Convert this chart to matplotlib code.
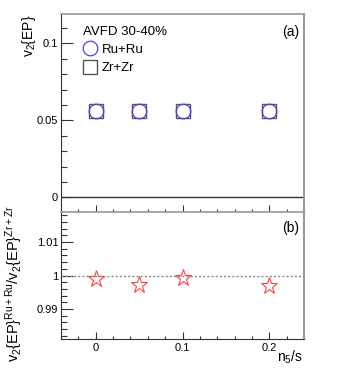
import matplotlib
matplotlib.use("Agg")
import matplotlib.pyplot as plt
from matplotlib.ticker import MultipleLocator, FixedLocator
from matplotlib.lines import Line2D

plt.rcParams['font.family'] = ['Liberation Sans', 'DejaVu Sans']
plt.rcParams['mathtext.fontset'] = 'custom'
plt.rcParams['mathtext.rm'] = 'Liberation Sans'
plt.rcParams['mathtext.it'] = 'Liberation Sans:italic'

# data
n5s = [0.0, 0.05, 0.1, 0.2]
v2_ru = [0.0558, 0.0558, 0.0558, 0.0558]
v2_zr = [0.0558, 0.0558, 0.0558, 0.0558]
ratio = [0.9990, 0.9972, 0.9994, 0.9969]

fig = plt.figure(figsize=(3.38, 3.73), dpi=100)
W, H = 338, 373
L, R = 61, 304
T1, B1, B2 = 14, 212, 339
ax1 = fig.add_axes([L / W, (H - B1) / H, (R - L) / W, (B1 - T1) / H])
ax2 = fig.add_axes([L / W, (H - B2) / H, (R - L) / W, (B2 - B1) / H])

dark = '#333333'
grey = '#999999'
for ax in (ax1, ax2):
    ax.set_xlim(-0.04, 0.24)
    ax.xaxis.set_major_locator(FixedLocator([0.0, 0.1, 0.2]))
    ax.xaxis.set_minor_locator(MultipleLocator(0.02))
    ax.tick_params(axis='both', which='both', direction='in', colors=dark,
                   labelcolor='black', labelsize=8, width=0.8)
    ax.tick_params(axis='y', which='major', length=8.5, pad=2)
    ax.tick_params(axis='y', which='minor', length=4)
    ax.tick_params(axis='x', which='major', length=5, pad=3)
    ax.tick_params(axis='x', which='minor', length=2.5)
    ax.spines['left'].set_color(dark)
    ax.spines['bottom'].set_color(dark)
    ax.spines['top'].set_color(grey)
    ax.spines['right'].set_color(grey)
    ax.spines['right'].set_linewidth(1.5)
    ax.spines['top'].set_linewidth(1.2)

# top panel
ax1.set_ylim(-0.0095, 0.119)
ax1.yaxis.set_major_locator(FixedLocator([0.0, 0.05, 0.1]))
ax1.yaxis.set_minor_locator(MultipleLocator(0.01))
ax1.set_yticklabels(['0', '0.05', '0.1'])
ax1.tick_params(axis='x', labelbottom=False)
ax1.axhline(0, color=dark, lw=1.0)
ax1.plot(n5s, v2_zr, ls='none', marker='s', ms=10.5, mfc='none', mec='#555555', mew=1.0)
ax1.plot(n5s, v2_ru, ls='none', marker='o', ms=10.5, mfc='none', mec='#4444ee', mew=0.9)
ax1.text(0.98, 0.909, '(a)', transform=ax1.transAxes, ha='right', va='center', fontsize=10)
ax1.text(0.09, 0.909, 'AVFD 30-40%', transform=ax1.transAxes, ha='left', va='center', fontsize=9.5)
handles = [Line2D([], [], ls='none', marker='o', ms=10.5, mfc='none', mec='#4444ee', mew=0.9),
           Line2D([], [], ls='none', marker='s', ms=10.5, mfc='none', mec='#555555', mew=1.0)]
ax1.legend(handles, ['Ru+Ru', 'Zr+Zr'], loc='upper left', bbox_to_anchor=(0.06, 0.885),
           frameon=False, fontsize=9.5, handletextpad=0.3, borderpad=0.0,
           handlelength=1.2, labelspacing=0.5)

# bottom panel
ax2.set_ylim(0.981, 1.019)
ax2.yaxis.set_major_locator(FixedLocator([0.99, 1.0, 1.01]))
ax2.yaxis.set_minor_locator(MultipleLocator(0.002))
ax2.set_yticklabels(['0.99', '1', '1.01'])
ax2.set_xticklabels(['0', '0.1', '0.2'])
ax2.axhline(1.0, color='#888888', lw=1.0, ls=(0, (1.5, 1.5)))
ax2.plot(n5s, ratio, ls='none', marker='*', ms=12.5, mfc='none', mec='#ff4444', mew=0.8)
ax2.text(0.98, 0.874, '(b)', transform=ax2.transAxes, ha='right', va='center', fontsize=10)

fig.text(29 / W, 1 - 15 / H, 'v$_2${EP}', rotation=90, ha='center', va='top', fontsize=10)
fig.text(14 / W, 1 - 284 / H, 'v$_2${EP}$^{\\mathrm{Ru+Ru}}$/v$_2${EP}$^{\\mathrm{Zr+Zr}}$',
         rotation=90, ha='center', va='center', fontsize=10.5)
fig.text(303 / W, 1 - 357 / H, 'n$_5$/s', ha='right', va='center', fontsize=10)

fig.savefig('out.png', dpi=100)
